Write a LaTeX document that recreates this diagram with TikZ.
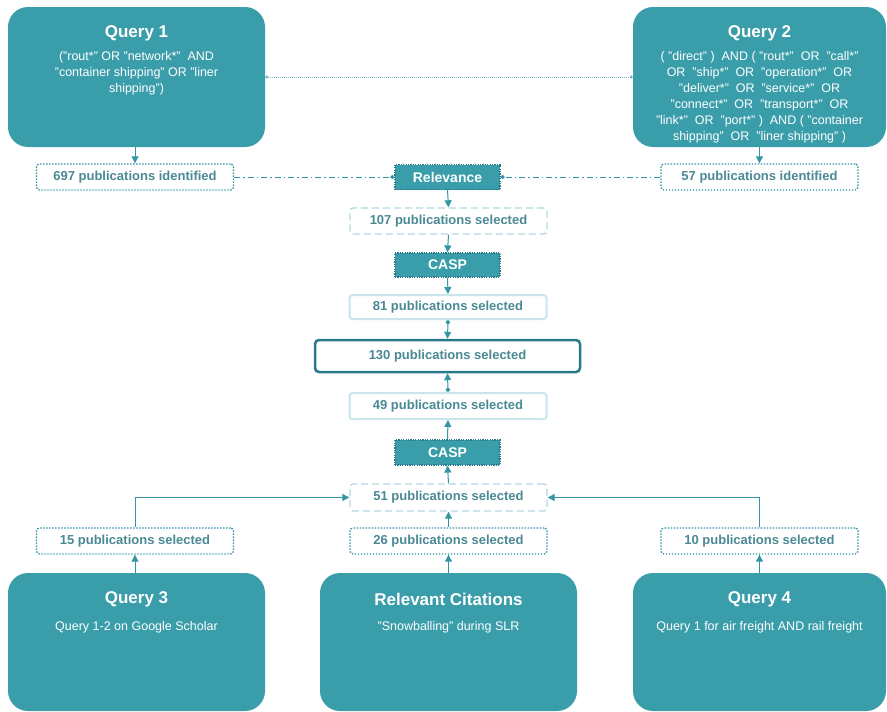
\documentclass[tikz,border=0pt]{standalone}
\usepackage{fontspec}
\setmainfont{Liberation Sans}
\usetikzlibrary{positioning, arrows.meta}
\definecolor{qteal}{RGB}{58,157,170}
\definecolor{qline}{RGB}{52,150,165}
\definecolor{qtext}{RGB}{74,138,148}
\definecolor{qlight}{RGB}{178,218,225}
\definecolor{qpale}{RGB}{200,230,235}
\definecolor{qdark}{RGB}{40,122,136}
\tikzset{
>={Triangle[length=7pt,width=7pt]}, % filled arrow heads
query/.style={fill=qteal, rounded corners=20pt, minimum width=257pt, minimum height=140pt}, % the big search boxes
qtitle/.style={text=white, inner sep=0pt, font=\fontsize{17}{20}\selectfont\bfseries}, % box headings
qbody/.style={text=white, inner sep=0pt, align=center, font=\fontsize{12.5}{16}\selectfont}, % search strings
pubbox/.style={fill=white, text=qtext, font=\fontsize{13}{15}\selectfont\bfseries, minimum width=197pt, minimum height=26pt, inner sep=0pt, rounded corners=3pt, line width=1.4pt}, % publication counts
found/.style={pubbox, draw=qline, dash pattern=on 1.4pt off 1.6pt},
kept/.style={pubbox, draw=qlight, dash pattern=on 7pt off 4pt},
checked/.style={pubbox, draw=qpale, line width=2pt},
gate/.style={fill=qteal, draw=qdark, dash pattern=on 1.2pt off 1.2pt, line width=1.2pt, text=white, minimum width=105pt, minimum height=25pt, inner sep=0pt, font=\fontsize{14}{16}\selectfont\bfseries}, % screening steps
flow/.style={->, draw=qline, line width=1pt},
}

\begin{document}
\begin{tikzpicture}[x=1pt, y=-1pt]
  \path[use as bounding box, fill=white] (0,0) rectangle (887,712);

  % Queries
  \node[query] (q1) at (136.5,77) {};
  \node[qtitle] (t1) at (136.5,33) {Query 1};
  \node[qbody, anchor=north] (b1) at (136.5,51) {("rout*" OR "network*" \ AND\\"container shipping" OR "liner\\shipping")};

  \node[query, minimum width=253pt] (q2) at (759.5,77) {};
  \node[qtitle] (t2) at (759.5,33) {Query 2};
  \node[qbody, anchor=north] (b2) at (759.5,51) {( "direct" ) \ AND ( "rout*" \ OR \ "call*"\\OR \ "ship*" \ OR \ "operation*" \ OR\\"deliver*" \ OR \ "service*" \ OR\\"connect*" \ OR \ "transport*" \ OR\\"link*" \ OR \ "port*" ) \ AND ( "container\\shipping" \ OR \ "liner shipping" )};

  \node[query, minimum height=138pt] (q3) at (136.5,642) {};
  \node[qtitle] (t3) at (136.5,599) {Query 3};
  \node[qbody] (b3) at (136.5,627) {Query 1-2 on Google Scholar};

  \node[query, minimum height=138pt] (rc) at (448.5,642) {};
  \node[qtitle] (t5) at (448.5,599) {Relevant Citations};
  \node[qbody] (b5) at (448.5,627) {"Snowballing" during SLR};

  \node[query, minimum width=253pt, minimum height=138pt] (q4) at (759.5,642) {};
  \node[qtitle] (t4) at (759.5,599) {Query 4};
  \node[qbody] (b4) at (759.5,627) {Query 1 for air freight AND rail freight};

  % Counts and screening
  \node[found] (n697) at (135,177) {697 publications identified};
  \node[found] (n57) at (759.5,177) {57 publications identified};
  \node[gate] (rel) at (447.5,177) {Relevance};
  \node[kept] (n107) at (448.5,221) {107 publications selected};
  \node[gate, minimum height=24pt] (casp1) at (447.5,265) {CASP};
  \node[checked, minimum height=24pt] (n81) at (448,307) {81 publications selected};
  \node[pubbox, draw=qdark, line width=2.5pt, minimum width=265pt, minimum height=32pt, rounded corners=4pt] (n130) at (447.5,356) {130 publications selected};
  \node[checked] (n49) at (448,406) {49 publications selected};
  \node[gate] (casp2) at (447.5,452.5) {CASP};
  \node[kept, minimum height=27pt] (n51) at (448.5,497.5) {51 publications selected};
  \node[found] (n15) at (135,541) {15 publications selected};
  \node[found] (n26) at (448.5,541) {26 publications selected};
  \node[found] (n10) at (759.5,541) {10 publications selected};

  % Connections
  \draw[qline!70, line width=0.8pt, dash pattern=on 1pt off 1pt, {Circle[length=3pt]}-{Circle[length=3pt]}] (q1.east) -- (q2.west);
  \draw[qline, line width=1pt, dash pattern=on 6pt off 3pt on 1.5pt off 3pt, -{Circle[length=4pt]}] (n697.east) -- (rel.west);
  \draw[qline, line width=1pt, dash pattern=on 6pt off 3pt on 1.5pt off 3pt, -{Circle[length=4pt]}] (n57.west) -- (rel.east);
  \draw[flow] (q1.south -| n697) -- (n697.north);
  \draw[flow] (q2.south) -- (n57.north);
  \draw[flow] (rel.south) -- (n107.north);
  \draw[flow] (n107.south) -- (casp1.north);
  \draw[flow] (casp1.south) -- (n81.north);
  \draw[flow, {Circle[length=4.5pt]}-{Triangle[length=7pt,width=7pt]}] (n81.south) -- (n130.north);
  \draw[flow, {Circle[length=4.5pt]}-{Triangle[length=7pt,width=7pt]}] (n49.north) -- (n130.south);
  \draw[flow] (casp2.north) -- (n49.south);
  \draw[flow] (n51.north) -- (casp2.south);
  \draw[flow] (n26.north) -- (n51.south);
  \draw[flow] (n15.north) |- (n51.west);
  \draw[flow] (n10.north) |- (n51.east);
  \draw[flow] (q3.north -| n15) -- (n15.south);
  \draw[flow] (rc.north) -- (n26.south);
  \draw[flow] (q4.north) -- (n10.south);
\end{tikzpicture}
\end{document}
